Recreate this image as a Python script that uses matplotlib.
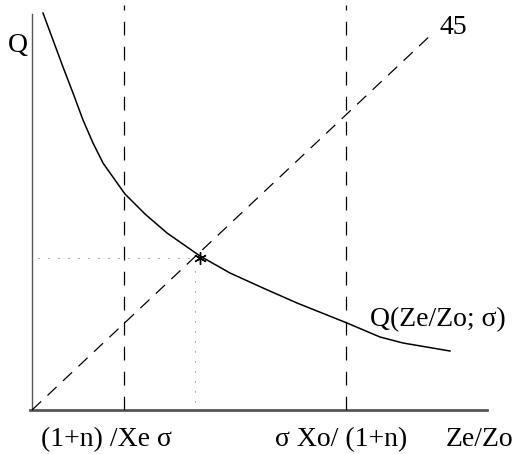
import matplotlib
matplotlib.use("Agg")
import matplotlib.pyplot as plt

plt.rcParams['font.family'] = ['Liberation Serif', 'DejaVu Serif']

# demand curve Q(Ze/Zo; sigma)
curve_x = [0.11, 0.21, 0.31, 0.41, 0.51, 0.61, 0.71, 0.83, 0.93, 1.13,
           1.35, 1.68, 1.98, 2.31, 2.65, 3.15, 3.48, 3.71, 4.18]
curve_y = [3.97, 3.70, 3.43, 3.17, 2.90, 2.67, 2.47, 2.30, 2.16, 1.96,
           1.77, 1.54, 1.37, 1.22, 1.07, 0.87, 0.73, 0.67, 0.59]

# 45 degree line
diag_x = [0.0, 4.01]
diag_y = [0.0, 3.77]

# the two bounds on Ze/Zo
bounds_x = [0.92, 3.14]
bounds_labels = ["(1+n) /Xe σ", "σ Xo/ (1+n)"]
bounds_label_x = [0.74, 3.09]

# equilibrium point
eq_x = 1.68
eq_y = 1.52

fig = plt.figure(figsize=(5.16, 4.54), dpi=100)
ax = fig.add_axes([0, 0, 1, 1])
ax.set_xlim(-0.32, 4.84)
ax.set_ylim(-0.44, 4.10)
ax.axis("off")

# axes
ax.plot([0, 0], [0, 3.96], color="#555555", lw=1.0)
ax.plot([-0.02, 4.55], [0, 0], color="#555555", lw=2.0)

# vertical bounds
for bx in bounds_x:
    ax.plot([bx, bx], [0, 4.05], color="black", lw=0.9, dashes=(11, 9))

ax.plot(diag_x, diag_y, color="black", lw=0.9, dashes=(10, 7))
ax.plot(curve_x, curve_y, color="black", lw=1.1, solid_joinstyle="round")

# dotted guides to the equilibrium
ax.plot([0.06, eq_x], [eq_y, eq_y], color="#777777", lw=0.8, dashes=(1, 8))
ax.plot([eq_x - 0.05, eq_x - 0.05], [0.08, eq_y - 0.05], color="#777777", lw=0.8, dashes=(1, 8))
ax.plot([eq_x], [eq_y], marker=(6, 2, 0), color="black", ms=9, mew=1.0)

fs = 20
ax.text(-0.14, 3.65, "Q", fontsize=fs, ha="center", va="center")
ax.text(4.08, 3.82, "45", fontsize=fs, ha="left", va="center")
ax.text(3.38, 0.90, "Q(Ze/Zo; σ)", fontsize=fs, ha="left", va="center")
for lx, lab in zip(bounds_label_x, bounds_labels):
    ax.text(lx, -0.30, lab, fontsize=fs, ha="center", va="center")
ax.text(4.81, -0.30, "Ze/Zo", fontsize=fs, ha="right", va="center")

fig.savefig("out.png", dpi=100)
